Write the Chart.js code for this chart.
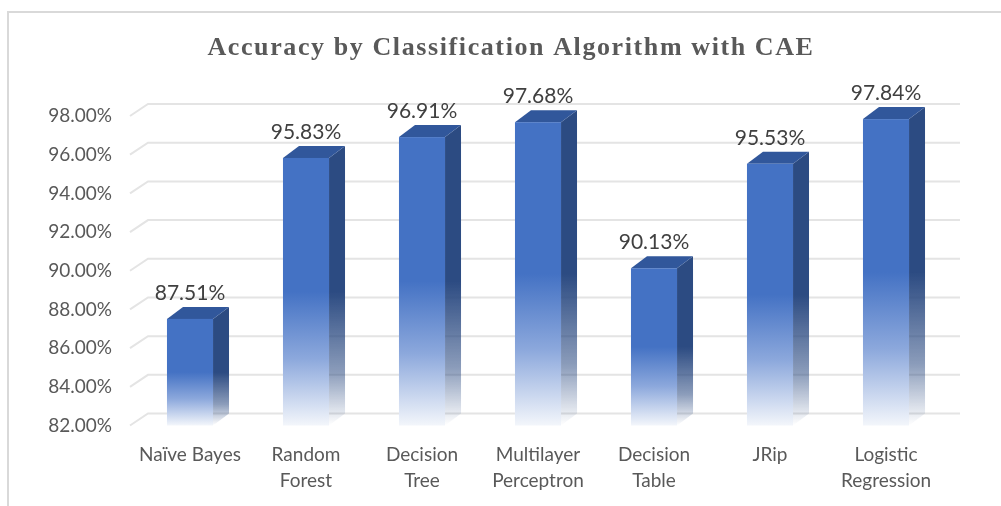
<!DOCTYPE html>
<html>
<head>
<meta charset="utf-8">
<script src="https://cdn.jsdelivr.net/npm/chart.js@4/dist/chart.umd.min.js"></script>
<style>
  html, body { margin: 0; padding: 0; background: #fff; }
  #wrap { position: relative; width: 1001px; height: 506px; }
</style>
</head>
<body>
<div id="wrap"><canvas id="accChart"></canvas></div>
<script>
// data
const algorithms = [
  'Naïve Bayes',
  ['Random', 'Forest'],
  ['Decision', 'Tree'],
  ['Multilayer', 'Perceptron'],
  ['Decision', 'Table'],
  'JRip',
  ['Logistic', 'Regression']
];
const accuracy = [87.51, 95.83, 96.91, 97.68, 90.13, 95.53, 97.84];
const yTicks = [82, 84, 86, 88, 90, 92, 94, 96, 98];
const titleText = 'Accuracy by Classification Algorithm with CAE';

const DX = 16, DY = -12; // depth of the 3d look

// frame (left + top) and the title, spaced out like the picture
const framePlugin = {
  id: 'frame',
  beforeDraw(chart) {
    const ctx = chart.ctx;
    ctx.save();
    ctx.strokeStyle = '#d9d9d9';
    ctx.lineWidth = 2;
    ctx.beginPath();
    ctx.moveTo(8, 506);
    ctx.lineTo(8, 12);
    ctx.lineTo(1001, 12);
    ctx.stroke();

    ctx.fillStyle = '#595959';
    ctx.font = 'bold 26px "Liberation Serif", "Times New Roman", serif';
    ctx.letterSpacing = '1.6px';
    ctx.textAlign = 'center';
    ctx.textBaseline = 'middle';
    ctx.fillText(titleText, 511, 48);
    ctx.restore();
  }
};

// gridlines on the back wall with a little diagonal on the left
const wallPlugin = {
  id: 'wall',
  beforeDatasetsDraw(chart) {
    const ctx = chart.ctx, area = chart.chartArea, y = chart.scales.y;
    ctx.save();
    ctx.strokeStyle = '#e4e4e4';
    ctx.lineWidth = 2;
    yTicks.forEach(v => {
      const py = y.getPixelForValue(v);
      ctx.beginPath();
      ctx.moveTo(area.left - 2, py);
      ctx.lineTo(area.left + DX, py + DY);
      ctx.lineTo(area.right + DX, py + DY);
      ctx.stroke();
    });
    ctx.restore();
  }
};

// 3d bars: front face, side and top, fading to white at the bottom
const barsPlugin = {
  id: 'bars3d',
  afterDatasetsDraw(chart) {
    const ctx = chart.ctx;
    const meta = chart.getDatasetMeta(0);
    const floor = chart.scales.y.getPixelForValue(yTicks[0]);
    ctx.save();
    meta.data.forEach((bar, i) => {
      const p = bar.getProps(['x', 'y', 'base', 'width'], true);
      const l = p.x - p.width / 2, r = p.x + p.width / 2;
      const top = p.y, base = Math.min(p.base, floor);

      // side
      let g = ctx.createLinearGradient(0, top, 0, base);
      g.addColorStop(0, '#2c4b82');
      g.addColorStop(0.5, '#2c4b82');
      g.addColorStop(0.8, 'rgba(44,75,130,0.55)');
      g.addColorStop(1, 'rgba(44,75,130,0)');
      ctx.fillStyle = g;
      ctx.beginPath();
      ctx.moveTo(r, top);
      ctx.lineTo(r + DX, top + DY);
      ctx.lineTo(r + DX, base + DY);
      ctx.lineTo(r, base);
      ctx.closePath();
      ctx.fill();

      // top
      ctx.fillStyle = '#31579b';
      ctx.beginPath();
      ctx.moveTo(l, top);
      ctx.lineTo(l + DX, top + DY);
      ctx.lineTo(r + DX, top + DY);
      ctx.lineTo(r, top);
      ctx.closePath();
      ctx.fill();

      // front
      g = ctx.createLinearGradient(0, top, 0, base);
      g.addColorStop(0, '#4472c4');
      g.addColorStop(0.5, '#4472c4');
      g.addColorStop(0.75, '#8ca8dc');
      g.addColorStop(1, '#f3f6fb');
      ctx.fillStyle = g;
      ctx.fillRect(l, top, p.width, base - top);

      // value label
      ctx.fillStyle = '#404040';
      ctx.font = '21px Lato, "Open Sans", sans-serif';
      ctx.textAlign = 'center';
      ctx.textBaseline = 'middle';
      ctx.fillText(accuracy[i].toFixed(2) + '%', p.x, top - 26);
    });
    ctx.restore();
  }
};

new Chart(document.getElementById('accChart'), {
  type: 'bar',
  data: {
    labels: algorithms,
    datasets: [{
      label: 'Accuracy',
      data: accuracy,
      backgroundColor: 'rgba(0,0,0,0)',
      borderWidth: 0,
      categoryPercentage: 1,
      barPercentage: 0.397
    }]
  },
  options: {
    responsive: true,
    maintainAspectRatio: false,
    animation: false,
    layout: { padding: { left: 0, right: 57, top: 116, bottom: 0 } },
    plugins: {
      legend: { display: false },
      tooltip: { enabled: false },
      title: { display: false }
    },
    scales: {
      x: {
        grid: { display: false, drawTicks: false },
        border: { display: false },
        ticks: {
          color: '#595959',
          font: { family: 'Lato, "Open Sans", sans-serif', size: 19, lineHeight: 1.37 },
          padding: 16,
          maxRotation: 0,
          autoSkip: false
        },
        afterFit(scale) { scale.height = 80.5; }
      },
      y: {
        min: 82,
        max: 98,
        grid: { display: false, drawTicks: false },
        border: { display: false },
        ticks: {
          stepSize: 2,
          color: '#595959',
          font: { family: 'Lato, "Open Sans", sans-serif', size: 19 },
          padding: 20,
          callback: v => v.toFixed(2) + '%'
        },
        afterFit(scale) { scale.width = 132; }
      }
    }
  },
  plugins: [framePlugin, wallPlugin, barsPlugin]
});
</script>
</body>
</html>
